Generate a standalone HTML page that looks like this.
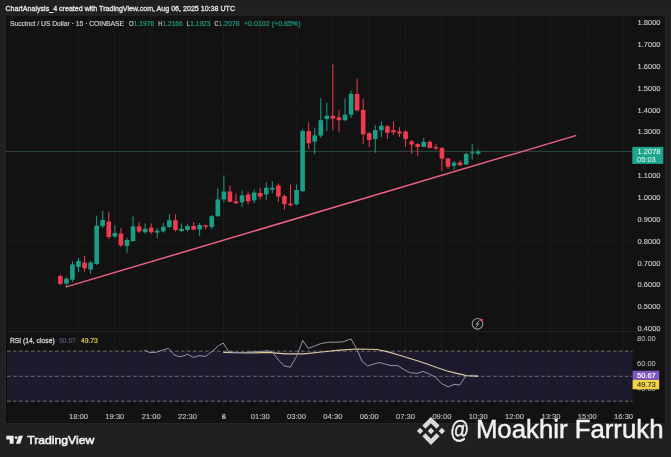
<!DOCTYPE html>
<html><head><meta charset="utf-8"><style>
html,body{margin:0;padding:0;background:#202020;width:671px;height:457px;overflow:hidden;position:relative}
</style></head><body>
<svg width="671" height="457" viewBox="0 0 671 457" style="position:absolute;left:0;top:0;will-change:transform"><rect x="0" y="0" width="671" height="457" fill="#202020"/><rect x="5" y="14.5" width="661" height="409.3" fill="#272727"/><rect x="6" y="15.7" width="659" height="407.3" fill="#121212"/><rect x="6" y="15.7" width="1.2" height="407.3" fill="#0a0a0a"/><rect x="7" y="351.2" width="625.5" height="50" fill="#1d1a2e"/><line x1="78.10" y1="15.7" x2="78.10" y2="405" stroke="#1c1c1c" stroke-width="1"/><line x1="114.44" y1="15.7" x2="114.44" y2="405" stroke="#1c1c1c" stroke-width="1"/><line x1="150.78" y1="15.7" x2="150.78" y2="405" stroke="#1c1c1c" stroke-width="1"/><line x1="187.12" y1="15.7" x2="187.12" y2="405" stroke="#1c1c1c" stroke-width="1"/><line x1="223.46" y1="15.7" x2="223.46" y2="405" stroke="#1c1c1c" stroke-width="1"/><line x1="259.80" y1="15.7" x2="259.80" y2="405" stroke="#1c1c1c" stroke-width="1"/><line x1="296.14" y1="15.7" x2="296.14" y2="405" stroke="#1c1c1c" stroke-width="1"/><line x1="332.48" y1="15.7" x2="332.48" y2="405" stroke="#1c1c1c" stroke-width="1"/><line x1="368.82" y1="15.7" x2="368.82" y2="405" stroke="#1c1c1c" stroke-width="1"/><line x1="405.16" y1="15.7" x2="405.16" y2="405" stroke="#1c1c1c" stroke-width="1"/><line x1="441.50" y1="15.7" x2="441.50" y2="405" stroke="#1c1c1c" stroke-width="1"/><line x1="477.84" y1="15.7" x2="477.84" y2="405" stroke="#1c1c1c" stroke-width="1"/><line x1="514.18" y1="15.7" x2="514.18" y2="405" stroke="#1c1c1c" stroke-width="1"/><line x1="550.52" y1="15.7" x2="550.52" y2="405" stroke="#1c1c1c" stroke-width="1"/><line x1="586.86" y1="15.7" x2="586.86" y2="405" stroke="#1c1c1c" stroke-width="1"/><line x1="623.20" y1="15.7" x2="623.20" y2="405" stroke="#1c1c1c" stroke-width="1"/><line x1="6" y1="22.40" x2="632.5" y2="22.40" stroke="#181818" stroke-width="1"/><line x1="6" y1="44.26" x2="632.5" y2="44.26" stroke="#181818" stroke-width="1"/><line x1="6" y1="66.12" x2="632.5" y2="66.12" stroke="#181818" stroke-width="1"/><line x1="6" y1="87.98" x2="632.5" y2="87.98" stroke="#181818" stroke-width="1"/><line x1="6" y1="109.84" x2="632.5" y2="109.84" stroke="#181818" stroke-width="1"/><line x1="6" y1="131.70" x2="632.5" y2="131.70" stroke="#181818" stroke-width="1"/><line x1="6" y1="153.56" x2="632.5" y2="153.56" stroke="#181818" stroke-width="1"/><line x1="6" y1="175.42" x2="632.5" y2="175.42" stroke="#181818" stroke-width="1"/><line x1="6" y1="197.28" x2="632.5" y2="197.28" stroke="#181818" stroke-width="1"/><line x1="6" y1="219.14" x2="632.5" y2="219.14" stroke="#181818" stroke-width="1"/><line x1="6" y1="241.00" x2="632.5" y2="241.00" stroke="#181818" stroke-width="1"/><line x1="6" y1="262.86" x2="632.5" y2="262.86" stroke="#181818" stroke-width="1"/><line x1="6" y1="284.72" x2="632.5" y2="284.72" stroke="#181818" stroke-width="1"/><line x1="6" y1="306.58" x2="632.5" y2="306.58" stroke="#181818" stroke-width="1"/><line x1="6" y1="328.44" x2="632.5" y2="328.44" stroke="#181818" stroke-width="1"/><line x1="6" y1="331.5" x2="665" y2="331.5" stroke="#222222" stroke-width="1"/><line x1="7" y1="351.2" x2="632.5" y2="351.2" stroke="#76767e" stroke-width="0.9" stroke-dasharray="3.6 2.4"/><line x1="7" y1="376.3" x2="632.5" y2="376.3" stroke="#76767e" stroke-width="0.9" stroke-dasharray="3.6 2.4"/><line x1="7" y1="401.2" x2="632.5" y2="401.2" stroke="#76767e" stroke-width="0.9" stroke-dasharray="3.6 2.4"/><line x1="6" y1="151.4" x2="632.5" y2="151.4" stroke="#2f4842" stroke-width="1"/><rect x="59.83" y="274.50" width="1" height="10.50" fill="#f03a50"/><rect x="58.03" y="275.90" width="4.6" height="7.90" fill="#f03a50"/><rect x="65.89" y="277.00" width="1" height="9.30" fill="#1a9e86"/><rect x="64.09" y="278.80" width="4.6" height="4.80" fill="#1a9e86"/><rect x="71.94" y="261.30" width="1" height="20.60" fill="#1a9e86"/><rect x="70.14" y="264.40" width="4.6" height="15.30" fill="#1a9e86"/><rect x="78.00" y="258.00" width="1" height="13.80" fill="#1a9e86"/><rect x="76.20" y="261.00" width="4.6" height="6.00" fill="#1a9e86"/><rect x="84.06" y="256.00" width="1" height="15.80" fill="#f03a50"/><rect x="82.26" y="262.60" width="4.6" height="5.70" fill="#f03a50"/><rect x="90.12" y="261.00" width="1" height="13.00" fill="#1a9e86"/><rect x="88.32" y="262.60" width="4.6" height="6.90" fill="#1a9e86"/><rect x="96.17" y="215.70" width="1" height="49.30" fill="#1a9e86"/><rect x="94.37" y="225.60" width="4.6" height="38.40" fill="#1a9e86"/><rect x="102.23" y="210.70" width="1" height="17.30" fill="#1a9e86"/><rect x="100.43" y="220.00" width="4.6" height="6.00" fill="#1a9e86"/><rect x="108.29" y="211.60" width="1" height="27.40" fill="#f03a50"/><rect x="106.49" y="221.50" width="4.6" height="15.50" fill="#f03a50"/><rect x="114.34" y="225.30" width="1" height="12.70" fill="#1a9e86"/><rect x="112.54" y="233.00" width="4.6" height="3.50" fill="#1a9e86"/><rect x="120.40" y="228.20" width="1" height="18.80" fill="#f03a50"/><rect x="118.60" y="233.50" width="4.6" height="11.90" fill="#f03a50"/><rect x="126.46" y="238.00" width="1" height="15.20" fill="#1a9e86"/><rect x="124.66" y="240.00" width="4.6" height="6.00" fill="#1a9e86"/><rect x="132.51" y="216.40" width="1" height="25.60" fill="#1a9e86"/><rect x="130.71" y="226.30" width="4.6" height="14.70" fill="#1a9e86"/><rect x="138.57" y="222.30" width="1" height="10.70" fill="#f03a50"/><rect x="136.77" y="226.30" width="4.6" height="5.30" fill="#f03a50"/><rect x="144.63" y="223.30" width="1" height="10.70" fill="#1a9e86"/><rect x="142.83" y="228.80" width="4.6" height="3.40" fill="#1a9e86"/><rect x="150.69" y="223.30" width="1" height="10.70" fill="#f03a50"/><rect x="148.88" y="227.60" width="4.6" height="4.60" fill="#f03a50"/><rect x="156.74" y="228.00" width="1" height="10.00" fill="#1a9e86"/><rect x="154.94" y="230.60" width="4.6" height="2.00" fill="#1a9e86"/><rect x="162.80" y="223.00" width="1" height="9.60" fill="#1a9e86"/><rect x="161.00" y="226.70" width="4.6" height="4.70" fill="#1a9e86"/><rect x="168.86" y="214.30" width="1" height="13.70" fill="#1a9e86"/><rect x="167.06" y="220.20" width="4.6" height="6.80" fill="#1a9e86"/><rect x="174.91" y="214.30" width="1" height="17.10" fill="#f03a50"/><rect x="173.11" y="220.20" width="4.6" height="9.80" fill="#f03a50"/><rect x="180.97" y="223.50" width="1" height="8.50" fill="#1a9e86"/><rect x="179.17" y="228.70" width="4.6" height="2.30" fill="#1a9e86"/><rect x="187.03" y="224.00" width="1" height="7.50" fill="#1a9e86"/><rect x="185.23" y="226.00" width="4.6" height="4.00" fill="#1a9e86"/><rect x="193.08" y="222.00" width="1" height="8.50" fill="#f03a50"/><rect x="191.28" y="226.00" width="4.6" height="3.60" fill="#f03a50"/><rect x="199.14" y="223.00" width="1" height="13.00" fill="#1a9e86"/><rect x="197.34" y="225.00" width="4.6" height="4.40" fill="#1a9e86"/><rect x="205.20" y="224.50" width="1" height="5.00" fill="#f03a50"/><rect x="203.40" y="225.40" width="4.6" height="1.40" fill="#f03a50"/><rect x="211.25" y="215.00" width="1" height="14.30" fill="#1a9e86"/><rect x="209.45" y="216.20" width="4.6" height="10.80" fill="#1a9e86"/><rect x="217.31" y="188.50" width="1" height="28.50" fill="#1a9e86"/><rect x="215.51" y="199.40" width="4.6" height="16.70" fill="#1a9e86"/><rect x="223.37" y="175.70" width="1" height="26.60" fill="#1a9e86"/><rect x="221.57" y="191.50" width="4.6" height="7.90" fill="#1a9e86"/><rect x="229.43" y="185.60" width="1" height="16.70" fill="#f03a50"/><rect x="227.63" y="191.50" width="4.6" height="10.20" fill="#f03a50"/><rect x="235.48" y="193.50" width="1" height="10.50" fill="#f03a50"/><rect x="233.68" y="201.30" width="4.6" height="2.00" fill="#f03a50"/><rect x="241.54" y="190.50" width="1" height="16.70" fill="#1a9e86"/><rect x="239.74" y="195.40" width="4.6" height="6.90" fill="#1a9e86"/><rect x="247.60" y="191.50" width="1" height="12.80" fill="#f03a50"/><rect x="245.80" y="194.40" width="4.6" height="6.90" fill="#f03a50"/><rect x="253.65" y="189.50" width="1" height="13.80" fill="#1a9e86"/><rect x="251.85" y="192.50" width="4.6" height="7.90" fill="#1a9e86"/><rect x="259.71" y="187.70" width="1" height="11.80" fill="#f03a50"/><rect x="257.91" y="193.00" width="4.6" height="3.50" fill="#f03a50"/><rect x="265.77" y="182.40" width="1" height="17.50" fill="#1a9e86"/><rect x="263.97" y="187.80" width="4.6" height="6.60" fill="#1a9e86"/><rect x="271.82" y="181.30" width="1" height="12.00" fill="#1a9e86"/><rect x="270.02" y="187.80" width="4.6" height="1.80" fill="#1a9e86"/><rect x="277.88" y="183.50" width="1" height="18.50" fill="#f03a50"/><rect x="276.08" y="185.60" width="4.6" height="11.00" fill="#f03a50"/><rect x="283.94" y="194.40" width="1" height="15.30" fill="#f03a50"/><rect x="282.14" y="196.10" width="4.6" height="8.10" fill="#f03a50"/><rect x="290.00" y="184.60" width="1" height="21.80" fill="#f03a50"/><rect x="288.20" y="203.60" width="4.6" height="1.70" fill="#f03a50"/><rect x="296.05" y="184.60" width="1" height="20.70" fill="#1a9e86"/><rect x="294.25" y="190.00" width="4.6" height="14.20" fill="#1a9e86"/><rect x="302.11" y="128.80" width="1" height="63.40" fill="#1a9e86"/><rect x="300.31" y="131.00" width="4.6" height="60.10" fill="#1a9e86"/><rect x="308.17" y="122.30" width="1" height="26.70" fill="#f03a50"/><rect x="306.37" y="131.10" width="4.6" height="12.10" fill="#f03a50"/><rect x="314.22" y="127.80" width="1" height="26.30" fill="#1a9e86"/><rect x="312.42" y="135.40" width="4.6" height="6.20" fill="#1a9e86"/><rect x="320.28" y="98.30" width="1" height="39.40" fill="#1a9e86"/><rect x="318.48" y="120.20" width="4.6" height="15.30" fill="#1a9e86"/><rect x="326.34" y="102.70" width="1" height="28.40" fill="#1a9e86"/><rect x="324.54" y="115.80" width="4.6" height="3.30" fill="#1a9e86"/><rect x="332.39" y="64.40" width="1" height="65.60" fill="#f03a50"/><rect x="330.59" y="115.80" width="4.6" height="2.80" fill="#f03a50"/><rect x="338.45" y="110.30" width="1" height="21.90" fill="#f03a50"/><rect x="336.65" y="117.30" width="4.6" height="2.90" fill="#f03a50"/><rect x="344.51" y="98.30" width="1" height="23.00" fill="#1a9e86"/><rect x="342.71" y="114.70" width="4.6" height="5.50" fill="#1a9e86"/><rect x="350.57" y="90.60" width="1" height="27.40" fill="#1a9e86"/><rect x="348.77" y="93.90" width="4.6" height="20.80" fill="#1a9e86"/><rect x="356.62" y="78.60" width="1" height="32.80" fill="#f03a50"/><rect x="354.82" y="93.90" width="4.6" height="16.50" fill="#f03a50"/><rect x="362.68" y="98.70" width="1" height="45.30" fill="#f03a50"/><rect x="360.88" y="109.90" width="4.6" height="24.30" fill="#f03a50"/><rect x="368.74" y="132.20" width="1" height="14.80" fill="#f03a50"/><rect x="366.94" y="133.10" width="4.6" height="6.90" fill="#f03a50"/><rect x="374.79" y="125.30" width="1" height="27.50" fill="#1a9e86"/><rect x="372.99" y="130.20" width="4.6" height="8.80" fill="#1a9e86"/><rect x="380.85" y="121.30" width="1" height="15.80" fill="#1a9e86"/><rect x="379.05" y="125.70" width="4.6" height="4.50" fill="#1a9e86"/><rect x="386.91" y="125.00" width="1" height="14.00" fill="#f03a50"/><rect x="385.11" y="126.30" width="4.6" height="6.50" fill="#f03a50"/><rect x="392.97" y="121.30" width="1" height="13.80" fill="#f03a50"/><rect x="391.17" y="130.20" width="4.6" height="2.00" fill="#f03a50"/><rect x="399.02" y="127.20" width="1" height="9.90" fill="#f03a50"/><rect x="397.22" y="131.60" width="4.6" height="1.90" fill="#f03a50"/><rect x="405.08" y="130.20" width="1" height="16.80" fill="#f03a50"/><rect x="403.28" y="131.60" width="4.6" height="7.40" fill="#f03a50"/><rect x="411.14" y="140.00" width="1" height="14.00" fill="#f03a50"/><rect x="409.34" y="141.40" width="4.6" height="3.10" fill="#f03a50"/><rect x="417.19" y="143.00" width="1" height="13.30" fill="#f03a50"/><rect x="415.39" y="144.10" width="4.6" height="2.80" fill="#f03a50"/><rect x="423.25" y="138.00" width="1" height="9.20" fill="#1a9e86"/><rect x="421.45" y="141.80" width="4.6" height="5.10" fill="#1a9e86"/><rect x="429.31" y="140.30" width="1" height="8.10" fill="#f03a50"/><rect x="427.51" y="141.80" width="4.6" height="6.10" fill="#f03a50"/><rect x="435.36" y="144.10" width="1" height="6.10" fill="#f03a50"/><rect x="433.56" y="146.90" width="4.6" height="1.50" fill="#f03a50"/><rect x="441.42" y="147.20" width="1" height="23.70" fill="#f03a50"/><rect x="439.62" y="147.90" width="4.6" height="10.70" fill="#f03a50"/><rect x="447.48" y="157.90" width="1" height="11.10" fill="#f03a50"/><rect x="445.68" y="158.50" width="4.6" height="8.30" fill="#f03a50"/><rect x="453.54" y="161.10" width="1" height="8.90" fill="#1a9e86"/><rect x="451.74" y="162.60" width="4.6" height="3.10" fill="#1a9e86"/><rect x="459.59" y="160.40" width="1" height="5.80" fill="#f03a50"/><rect x="457.79" y="162.40" width="4.6" height="2.70" fill="#f03a50"/><rect x="465.65" y="152.40" width="1" height="12.60" fill="#1a9e86"/><rect x="463.85" y="154.00" width="4.6" height="10.50" fill="#1a9e86"/><rect x="471.71" y="144.20" width="1" height="15.30" fill="#1a9e86"/><rect x="469.91" y="152.40" width="4.6" height="1.10" fill="#1a9e86"/><rect x="477.76" y="149.48" width="1" height="5.30" fill="#1a9e86"/><rect x="475.96" y="151.40" width="4.6" height="2.22" fill="#1a9e86"/><line x1="66.2" y1="286.9" x2="575.6" y2="135.6" stroke="#ea6282" stroke-width="1.5" stroke-linecap="round"/><polyline points="223.2,352.4 250.0,352.9 267.9,352.4 285.8,353.8 303.7,353.8 321.6,352.0 339.4,350.2 357.3,349.0 377.4,349.5 389.0,352.2 398.8,355.0 408.4,358.0 418.1,361.0 427.8,364.3 437.5,367.8 447.2,371.0 456.9,373.4 465.6,375.3 478.2,376.3" fill="none" stroke="#dccaa0" stroke-width="1.2"/><polyline points="144.1,350.3 150.0,352.6 156.0,352.3 162.0,350.3 168.5,348.3 173.9,354.7 178.7,356.7 183.0,356.1 187.4,354.3 193.7,357.4 199.0,355.6 205.3,356.5 212.5,351.1 218.7,345.7 223.2,343.0 228.6,351.5 234.8,352.5 243.8,352.5 251.0,352.0 260.7,351.5 267.9,350.7 272.4,352.0 278.6,360.0 284.0,365.8 290.3,367.2 296.5,356.5 302.8,340.4 308.1,348.4 314.4,346.1 320.7,343.6 328.7,342.2 335.9,342.2 343.0,341.8 351.1,338.9 357.3,350.2 362.0,361.2 367.8,366.0 373.6,364.1 379.4,362.5 385.2,364.1 391.0,365.6 397.8,365.6 404.6,369.9 410.4,372.8 417.2,373.4 423.0,371.4 428.8,373.8 435.6,377.2 441.4,383.4 448.2,386.9 454.0,384.4 459.8,385.0 465.6,376.1 471.4,375.3 478.2,375.6" fill="none" stroke="#9494a4" stroke-width="1.0"/><text x="660.5" y="25.10" font-family='"Liberation Sans", sans-serif' font-size="7.5" fill="#cccccc" stroke="#cccccc" stroke-width="0.12" text-anchor="end">1.8000</text><text x="660.5" y="46.96" font-family='"Liberation Sans", sans-serif' font-size="7.5" fill="#cccccc" stroke="#cccccc" stroke-width="0.12" text-anchor="end">1.7000</text><text x="660.5" y="68.82" font-family='"Liberation Sans", sans-serif' font-size="7.5" fill="#cccccc" stroke="#cccccc" stroke-width="0.12" text-anchor="end">1.6000</text><text x="660.5" y="90.68" font-family='"Liberation Sans", sans-serif' font-size="7.5" fill="#cccccc" stroke="#cccccc" stroke-width="0.12" text-anchor="end">1.5000</text><text x="660.5" y="112.54" font-family='"Liberation Sans", sans-serif' font-size="7.5" fill="#cccccc" stroke="#cccccc" stroke-width="0.12" text-anchor="end">1.4000</text><text x="660.5" y="134.40" font-family='"Liberation Sans", sans-serif' font-size="7.5" fill="#cccccc" stroke="#cccccc" stroke-width="0.12" text-anchor="end">1.3000</text><text x="660.5" y="156.26" font-family='"Liberation Sans", sans-serif' font-size="7.5" fill="#cccccc" stroke="#cccccc" stroke-width="0.12" text-anchor="end">1.2000</text><text x="660.5" y="178.12" font-family='"Liberation Sans", sans-serif' font-size="7.5" fill="#cccccc" stroke="#cccccc" stroke-width="0.12" text-anchor="end">1.1000</text><text x="660.5" y="199.98" font-family='"Liberation Sans", sans-serif' font-size="7.5" fill="#cccccc" stroke="#cccccc" stroke-width="0.12" text-anchor="end">1.0000</text><text x="660.5" y="221.84" font-family='"Liberation Sans", sans-serif' font-size="7.5" fill="#cccccc" stroke="#cccccc" stroke-width="0.12" text-anchor="end">0.9000</text><text x="660.5" y="243.70" font-family='"Liberation Sans", sans-serif' font-size="7.5" fill="#cccccc" stroke="#cccccc" stroke-width="0.12" text-anchor="end">0.8000</text><text x="660.5" y="265.56" font-family='"Liberation Sans", sans-serif' font-size="7.5" fill="#cccccc" stroke="#cccccc" stroke-width="0.12" text-anchor="end">0.7000</text><text x="660.5" y="287.42" font-family='"Liberation Sans", sans-serif' font-size="7.5" fill="#cccccc" stroke="#cccccc" stroke-width="0.12" text-anchor="end">0.6000</text><text x="660.5" y="309.28" font-family='"Liberation Sans", sans-serif' font-size="7.5" fill="#cccccc" stroke="#cccccc" stroke-width="0.12" text-anchor="end">0.5000</text><text x="660.5" y="331.14" font-family='"Liberation Sans", sans-serif' font-size="7.5" fill="#cccccc" stroke="#cccccc" stroke-width="0.12" text-anchor="end">0.4000</text><rect x="632.3" y="146.9" width="31" height="17" fill="#1ea58c"/><text x="660.5" y="154.4" font-family='"Liberation Sans", sans-serif' font-size="7.5" fill="#ffffff" text-anchor="end">1.2078</text><text x="655.8" y="162.2" font-family='"Liberation Sans", sans-serif' font-size="7.5" fill="#e8f5f2" text-anchor="end">05:03</text><text x="655.8" y="341.4" font-family='"Liberation Sans", sans-serif' font-size="7.5" fill="#c8c8c8" text-anchor="end">80.00</text><text x="655.8" y="366.3" font-family='"Liberation Sans", sans-serif' font-size="7.5" fill="#c8c8c8" text-anchor="end">60.00</text><text x="655.8" y="391.4" font-family='"Liberation Sans", sans-serif' font-size="7.5" fill="#b0b0b0" text-anchor="end">40.00</text><rect x="632.6" y="370.7" width="26.6" height="9.2" fill="#7e57c2"/><text x="655.8" y="378.0" font-family='"Liberation Sans", sans-serif' font-size="7.5" fill="#ffffff" text-anchor="end" stroke="#ffffff" stroke-width="0.15">50.67</text><rect x="632.6" y="379.9" width="26.6" height="9.4" fill="#f2d34a"/><text x="655.8" y="387.4" font-family='"Liberation Sans", sans-serif' font-size="7.5" fill="#3a3210" text-anchor="end" stroke="#3a3210" stroke-width="0.15">49.73</text><text x="78.50" y="419.2" font-family='"Liberation Sans", sans-serif' font-size="7.6" font-weight="normal" fill="#c4c4c4" stroke="#c4c4c4" stroke-width="0.12" text-anchor="middle">18:00</text><text x="114.84" y="419.2" font-family='"Liberation Sans", sans-serif' font-size="7.6" font-weight="normal" fill="#c4c4c4" stroke="#c4c4c4" stroke-width="0.12" text-anchor="middle">19:30</text><text x="151.18" y="419.2" font-family='"Liberation Sans", sans-serif' font-size="7.6" font-weight="normal" fill="#c4c4c4" stroke="#c4c4c4" stroke-width="0.12" text-anchor="middle">21:00</text><text x="187.52" y="419.2" font-family='"Liberation Sans", sans-serif' font-size="7.6" font-weight="normal" fill="#c4c4c4" stroke="#c4c4c4" stroke-width="0.12" text-anchor="middle">22:30</text><text x="223.86" y="419.2" font-family='"Liberation Sans", sans-serif' font-size="7.6" font-weight="bold" fill="#c4c4c4" stroke="#c4c4c4" stroke-width="0.12" text-anchor="middle">6</text><text x="260.20" y="419.2" font-family='"Liberation Sans", sans-serif' font-size="7.6" font-weight="normal" fill="#c4c4c4" stroke="#c4c4c4" stroke-width="0.12" text-anchor="middle">01:30</text><text x="296.54" y="419.2" font-family='"Liberation Sans", sans-serif' font-size="7.6" font-weight="normal" fill="#c4c4c4" stroke="#c4c4c4" stroke-width="0.12" text-anchor="middle">03:00</text><text x="332.88" y="419.2" font-family='"Liberation Sans", sans-serif' font-size="7.6" font-weight="normal" fill="#c4c4c4" stroke="#c4c4c4" stroke-width="0.12" text-anchor="middle">04:30</text><text x="369.22" y="419.2" font-family='"Liberation Sans", sans-serif' font-size="7.6" font-weight="normal" fill="#c4c4c4" stroke="#c4c4c4" stroke-width="0.12" text-anchor="middle">06:00</text><text x="405.56" y="419.2" font-family='"Liberation Sans", sans-serif' font-size="7.6" font-weight="normal" fill="#c4c4c4" stroke="#c4c4c4" stroke-width="0.12" text-anchor="middle">07:30</text><text x="441.90" y="419.2" font-family='"Liberation Sans", sans-serif' font-size="7.6" font-weight="normal" fill="#c4c4c4" stroke="#c4c4c4" stroke-width="0.12" text-anchor="middle">09:00</text><text x="478.24" y="419.2" font-family='"Liberation Sans", sans-serif' font-size="7.6" font-weight="normal" fill="#c4c4c4" stroke="#c4c4c4" stroke-width="0.12" text-anchor="middle">10:30</text><text x="514.58" y="419.2" font-family='"Liberation Sans", sans-serif' font-size="7.6" font-weight="normal" fill="#c4c4c4" stroke="#c4c4c4" stroke-width="0.12" text-anchor="middle">12:00</text><text x="550.92" y="419.2" font-family='"Liberation Sans", sans-serif' font-size="7.6" font-weight="normal" fill="#c4c4c4" stroke="#c4c4c4" stroke-width="0.12" text-anchor="middle">13:30</text><text x="587.26" y="419.2" font-family='"Liberation Sans", sans-serif' font-size="7.6" font-weight="normal" fill="#c4c4c4" stroke="#c4c4c4" stroke-width="0.12" text-anchor="middle">15:00</text><text x="623.60" y="419.2" font-family='"Liberation Sans", sans-serif' font-size="7.6" font-weight="normal" fill="#c4c4c4" stroke="#c4c4c4" stroke-width="0.12" text-anchor="middle">16:30</text><text x="5.5" y="11.2" font-family='"Liberation Sans", sans-serif' font-size="7.2" fill="#e6e6e6" font-weight="normal" stroke="#e6e6e6" stroke-width="0.3" textLength="229.5" lengthAdjust="spacingAndGlyphs">ChartAnalysis_4 created with TradingView.com, Aug 06, 2025 10:38 UTC</text><text x="10" y="25.8" font-family='"Liberation Sans", sans-serif' font-size="7.2" font-weight="normal" fill="#d0d0d0" text-anchor="start" textLength="114" lengthAdjust="spacingAndGlyphs" stroke="#d0d0d0" stroke-width="0.18">Succinct / US Dollar · 15 · COINBASE</text><text x="129" y="25.8" font-family='"Liberation Sans", sans-serif' font-size="7.2" font-weight="normal" fill="#d0d0d0" text-anchor="start" textLength="4.6" lengthAdjust="spacingAndGlyphs" stroke="#d0d0d0" stroke-width="0.18">O</text><text x="133.6" y="25.8" font-family='"Liberation Sans", sans-serif' font-size="7.2" font-weight="normal" fill="#1f9c84" text-anchor="start" textLength="20.6" lengthAdjust="spacingAndGlyphs" stroke="#1f9c84" stroke-width="0.18">1.1976</text><text x="158.3" y="25.8" font-family='"Liberation Sans", sans-serif' font-size="7.2" font-weight="normal" fill="#d0d0d0" text-anchor="start" textLength="4.0" lengthAdjust="spacingAndGlyphs" stroke="#d0d0d0" stroke-width="0.18">H</text><text x="162.4" y="25.8" font-family='"Liberation Sans", sans-serif' font-size="7.2" font-weight="normal" fill="#1f9c84" text-anchor="start" textLength="20.4" lengthAdjust="spacingAndGlyphs" stroke="#1f9c84" stroke-width="0.18">1.2166</text><text x="186.8" y="25.8" font-family='"Liberation Sans", sans-serif' font-size="7.2" font-weight="normal" fill="#d0d0d0" text-anchor="start" textLength="3.2" lengthAdjust="spacingAndGlyphs" stroke="#d0d0d0" stroke-width="0.18">L</text><text x="190.2" y="25.8" font-family='"Liberation Sans", sans-serif' font-size="7.2" font-weight="normal" fill="#1f9c84" text-anchor="start" textLength="20.3" lengthAdjust="spacingAndGlyphs" stroke="#1f9c84" stroke-width="0.18">1.1923</text><text x="214.6" y="25.8" font-family='"Liberation Sans", sans-serif' font-size="7.2" font-weight="normal" fill="#d0d0d0" text-anchor="start" textLength="3.8" lengthAdjust="spacingAndGlyphs" stroke="#d0d0d0" stroke-width="0.18">C</text><text x="218.6" y="25.8" font-family='"Liberation Sans", sans-serif' font-size="7.2" font-weight="normal" fill="#1f9c84" text-anchor="start" textLength="21" lengthAdjust="spacingAndGlyphs" stroke="#1f9c84" stroke-width="0.18">1.2078</text><text x="244" y="25.8" font-family='"Liberation Sans", sans-serif' font-size="7.2" font-weight="normal" fill="#1f9c84" text-anchor="start" textLength="56.5" lengthAdjust="spacingAndGlyphs" stroke="#1f9c84" stroke-width="0.18">+0.0102 (+0.85%)</text><text x="9.9" y="343" font-family='"Liberation Sans", sans-serif' font-size="7.0" font-weight="normal" fill="#d4d4d4" text-anchor="start" textLength="44.8" lengthAdjust="spacingAndGlyphs" stroke="#d4d4d4" stroke-width="0.28">RSI (14, close)</text><text x="59.2" y="343" font-family='"Liberation Sans", sans-serif' font-size="7.0" font-weight="normal" fill="#58557c" text-anchor="start" textLength="16.6" lengthAdjust="spacingAndGlyphs" stroke="#58557c" stroke-width="0.18">50.67</text><text x="80.9" y="343" font-family='"Liberation Sans", sans-serif' font-size="7.0" font-weight="normal" fill="#f0cf4a" text-anchor="start" textLength="17" lengthAdjust="spacingAndGlyphs" stroke="#f0cf4a" stroke-width="0.18">49.73</text><circle cx="477.5" cy="323.8" r="5.3" fill="#131313" stroke="#9a9a9a" stroke-width="1.1"/><path d="M479.3 320.4 L476.2 324.3 L478.8 323.6 L475.8 327.4" fill="none" stroke="#b0b0b0" stroke-width="0.9"/><circle cx="481.6" cy="320.1" r="1.4" fill="#d84868"/><path d="M6.3 435.8 H13.6 V443.8 H9.7 V439.5 H6.3 Z" fill="#eeeeee"/><circle cx="16.1" cy="437.6" r="1.4" fill="#eeeeee"/><path d="M18.8 435.8 H23 L20.1 443.8 H15.9 Z" fill="#eeeeee"/><text x="27.3" y="444.4" font-family='"Liberation Sans", sans-serif' font-size="11.6" font-weight="normal" stroke="#eeeeee" stroke-width="0.6" fill="#eeeeee" textLength="67" lengthAdjust="spacingAndGlyphs">TradingView</text><g transform="translate(416.9 416.9) scale(0.2219)" fill="#dadada"><path d="M38.73 53.2l24.59-24.58 24.6 24.6 14.3-14.31L63.32 0 24.43 38.9l14.3 14.3zM0 63.31l14.3-14.31 14.31 14.31-14.31 14.3zm38.73 10.11l24.59 24.59 24.6-24.6 14.31 14.29-38.9 38.91-38.88-38.88-.02-.02zm59.27-10.1l14.3-14.31 14.31 14.3-14.31 14.32z"/><path d="M77.83 63.3L63.32 48.78 52.59 59.51l-1.24 1.23-2.54 2.54 14.51 14.5 14.51-14.5z"/></g><text x="450.3" y="438.3" font-family='"Liberation Sans", sans-serif' font-size="23" fill="#f0f0f0" stroke="#f0f0f0" stroke-width="0.5" textLength="18.8" lengthAdjust="spacingAndGlyphs">@</text><text x="475.9" y="437.9" font-family='"Liberation Sans", sans-serif' font-size="25" fill="#f2f2f2" stroke="#f2f2f2" stroke-width="0.45" textLength="187.6" lengthAdjust="spacingAndGlyphs">Moakhir Farrukh</text></svg>
</body></html>
